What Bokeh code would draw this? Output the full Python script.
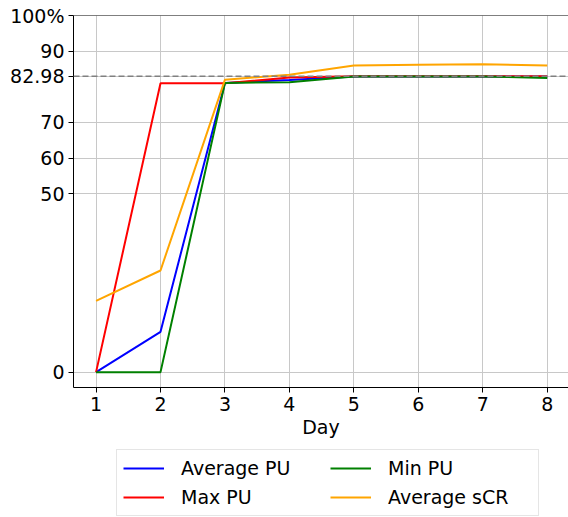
from bokeh.plotting import figure
from bokeh.layouts import column
from bokeh.models import (Range1d, FixedTicker, Span, Legend, LegendItem)
from bokeh.embed import file_html
from bokeh.resources import INLINE

days = [1, 2, 3, 4, 5, 6, 7, 8]
avg_pu = [0, 11.3, 81.1, 81.9, 82.9, 82.9, 82.9, 82.9]
max_pu = [0, 81.0, 81.0, 82.6, 83.0, 83.0, 83.0, 83.0]
min_pu = [0, 0, 81.1, 81.3, 82.9, 82.9, 82.9, 82.5]
avg_scr = [20.0, 28.5, 82.0, 83.4, 86.0, 86.2, 86.3, 86.0]

series_names = ["Average PU", "Max PU", "Min PU", "Average sCR"]
series_colors = ["blue", "red", "green", "orange"]

ref_value = 82.98
y_ticks = [0, 50, 60, 70, 82.98, 90, 100]
y_labels = ["0", "50", "60", "70", "82.98", "90", "100%"]
x_ticks = [1, 2, 3, 4, 5, 6, 7, 8]

FONT = "DejaVu Sans"
FS = "19px"

p = figure(frame_width=495, frame_height=372, output_backend="svg",
           toolbar_location=None, x_range=Range1d(0.65, 8.33),
           y_range=Range1d(-4.31, 100),
           min_border_left=73, min_border_right=0, min_border_top=15,
           min_border_bottom=58)
p.outline_line_color = None
p.background_fill_color = "white"
p.border_fill_color = "white"

for ax in (p.xaxis[0], p.yaxis[0]):
    ax.major_label_text_font = FONT
    ax.major_label_text_font_size = FS
    ax.major_label_text_color = "black"
    ax.axis_line_color = "black"
    ax.major_tick_line_color = "black"
    ax.major_tick_out = 5
    ax.major_tick_in = 0
    ax.minor_tick_line_color = None
    ax.major_label_standoff = 4

p.xaxis.ticker = FixedTicker(ticks=x_ticks)
p.yaxis.ticker = FixedTicker(ticks=y_ticks)
p.yaxis.major_label_overrides = {t: l for t, l in zip(y_ticks, y_labels)}
p.xaxis.axis_label = "Day"
p.xaxis.axis_label_text_font = FONT
p.xaxis.axis_label_text_font_size = FS
p.xaxis.axis_label_text_font_style = "normal"
p.xaxis.axis_label_text_color = "black"
p.xaxis.axis_label_standoff = 2

p.xgrid.ticker = FixedTicker(ticks=x_ticks)
p.ygrid.ticker = FixedTicker(ticks=y_ticks)
for g in (p.xgrid[0], p.ygrid[0]):
    g.grid_line_color = "#c8c8c8"
    g.grid_line_width = 1

LW = 2
for ys, c in zip([avg_pu, max_pu, min_pu, avg_scr], series_colors):
    p.line(days, ys, line_color=c, line_width=LW)

p.add_layout(Span(location=ref_value, dimension="width", line_color="gray",
                  line_dash="6 3", line_width=1.5))
p.add_layout(Span(location=100, dimension="width", line_color="black",
                  line_width=1.2))

# legend panel below the chart (its lines lie outside its visible range)
p2 = figure(width=568, height=72, output_backend="svg", toolbar_location=None,
            x_axis_type=None, y_axis_type=None,
            x_range=Range1d(100, 101), y_range=Range1d(100, 101),
            min_border_left=0, min_border_right=0, min_border_top=0,
            min_border_bottom=0)
p2.outline_line_color = None
p2.grid.visible = False
items = []
for name, c in zip(series_names, series_colors):
    r = p2.line([0, 1], [0, 0], line_color=c, line_width=LW)
    items.append(LegendItem(label=name, renderers=[r]))

legend = Legend(items=items, ncols=2, location=(43, 1))
legend.label_text_font = FONT
legend.label_text_font_size = FS
legend.label_text_color = "black"
legend.glyph_width = 41
legend.glyph_height = 24
legend.label_height = 24
legend.label_standoff = 17
legend.label_width = 144
legend.spacing = 5
legend.padding = 6
legend.margin = 0
legend.border_line_color = "#cccccc"
legend.border_line_width = 1
legend.background_fill_color = "white"
legend.background_fill_alpha = 1
p2.add_layout(legend, "center")

layout = column(p, p2, spacing=0)
open("out.html", "w").write(file_html(layout, INLINE))
